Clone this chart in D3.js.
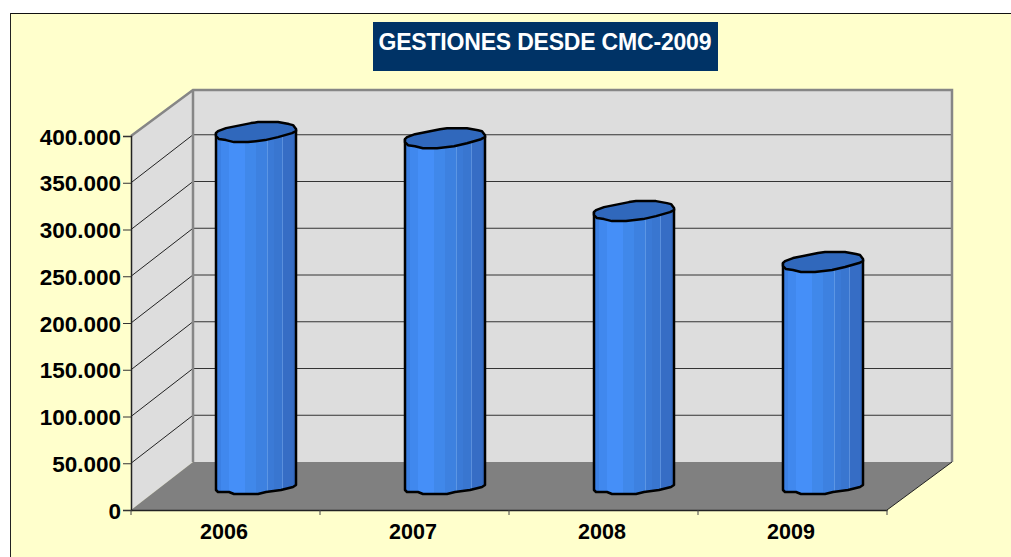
<!DOCTYPE html>
<html>
<head>
<meta charset="utf-8">
<script src="https://cdn.jsdelivr.net/npm/d3@7"></script>
<style>
html, body { margin: 0; padding: 0; background: #fff; overflow: hidden; }
text { font-family: "Liberation Sans", Arial, sans-serif; font-weight: bold; }
</style>
</head>
<body>
<svg id="chart" width="1011" height="557"></svg>
<script>
var years = ["2006", "2007", "2008", "2009"];
var gestiones = [378500, 372000, 294000, 239500];
var yTicks = [0, 50000, 100000, 150000, 200000, 250000, 300000, 350000, 400000];
var yLabels = ["0", "50.000", "100.000", "150.000", "200.000", "250.000", "300.000", "350.000", "400.000"];
var chartTitle = "GESTIONES DESDE CMC-2009";

var svg = d3.select("#chart");

// depth of the fake 3d box
var depthX = 62;
var depthY = 48;

var xScale = d3.scaleBand().domain(years).range([131, 887]);
var yScale = d3.scaleLinear().domain([0, 400000]).range([510, 136]);

var x0 = xScale.range()[0];
var x1 = xScale.range()[1];
var y0 = yScale(0);
var yTop = yScale(400000);
var wallTop = yTop - depthY + 2;

// page background
svg.append("rect").attr("width", 1011).attr("height", 557).attr("fill", "#fff");
svg.append("rect").attr("x", 10).attr("y", 13).attr("width", 1001).attr("height", 544)
    .attr("fill", "#ffffcc");
svg.append("line").attr("x1", 10).attr("x2", 1011).attr("y1", 13.5).attr("y2", 13.5)
    .attr("stroke", "#111").attr("stroke-width", 1);
svg.append("line").attr("x1", 10.5).attr("x2", 10.5).attr("y1", 13).attr("y2", 557)
    .attr("stroke", "#222").attr("stroke-width", 1);

// title box
svg.append("rect").attr("x", 373).attr("y", 22).attr("width", 345).attr("height", 49)
    .attr("fill", "#003366");
svg.append("text").attr("x", 545).attr("y", 50).attr("text-anchor", "middle")
    .attr("fill", "#fff").style("font-size", "23px").attr("textLength", 333)
    .attr("lengthAdjust", "spacing").text(chartTitle);

// walls
function poly(pts) { return pts.map(function(p){ return p.join(","); }).join(" "); }

svg.append("polygon")
    .attr("points", poly([[x0 + depthX, wallTop], [x1 + 65, wallTop], [x1 + 65, y0 - depthY], [x0 + depthX, y0 - depthY]]))
    .attr("fill", "#dddddd");
svg.append("polygon")
    .attr("points", poly([[x0, yTop], [x0 + depthX, wallTop], [x0 + depthX, y0 - depthY], [x0, y0]]))
    .attr("fill", "#dddddd");
svg.append("polygon")
    .attr("points", poly([[x0, y0], [x0 + depthX, y0 - depthY], [x1 + 65, y0 - depthY], [x1, y0]]))
    .attr("fill", "#808080");

// gridlines, back wall then the slanted bit on the side wall
var gridTicks = yTicks.filter(function(d){ return d > 0 && d < 400000; });
svg.selectAll(".grid").data(gridTicks).enter().append("line").attr("class", "grid")
    .attr("x1", x0 + depthX).attr("x2", x1 + 65)
    .attr("y1", function(d){ return yScale(d) - depthY; })
    .attr("y2", function(d){ return yScale(d) - depthY; })
    .attr("stroke", "#333").attr("stroke-width", 1);
svg.selectAll(".gridSide").data(gridTicks).enter().append("line").attr("class", "gridSide")
    .attr("x1", x0).attr("x2", x0 + depthX)
    .attr("y1", function(d){ return yScale(d); })
    .attr("y2", function(d){ return yScale(d) - depthY; })
    .attr("stroke", "#222").attr("stroke-width", 1);

// grey frame of the walls
svg.append("path")
    .attr("d", "M" + x0 + "," + yTop + "L" + (x0 + depthX) + "," + wallTop
        + "L" + (x1 + 65) + "," + wallTop + "L" + (x1 + 65) + "," + (y0 - depthY))
    .attr("fill", "none").attr("stroke", "#868686").attr("stroke-width", 2.5);
svg.append("line").attr("x1", x0 + depthX).attr("x2", x0 + depthX)
    .attr("y1", wallTop).attr("y2", y0 - depthY)
    .attr("stroke", "#868686").attr("stroke-width", 2.5);
svg.append("line").attr("x1", x1).attr("x2", x1 + 65)
    .attr("y1", y0).attr("y2", y0 - depthY)
    .attr("stroke", "#222").attr("stroke-width", 1);

// cylinder colours, hard steps like the original
var grad = svg.append("defs").append("linearGradient").attr("id", "cyl")
    .attr("x1", 0).attr("x2", 1).attr("y1", 0).attr("y2", 0);
var gradSteps = [[0, "#3b80e4"], [0.06, "#4088ee"], [0.16, "#458ff8"], [0.36, "#4088ea"],
    [0.5, "#3d81e0"], [0.64, "#5c96e4"], [0.65, "#3b7ad6"], [0.72, "#3976d0"],
    [0.83, "#5a8fdc"], [0.84, "#366dc5"], [0.96, "#3369bf"], [1, "#3369bf"]];
gradSteps.forEach(function(s, i){
    if (i > 0) grad.append("stop").attr("offset", s[0]).attr("stop-color", gradSteps[i - 1][1]);
    grad.append("stop").attr("offset", s[0]).attr("stop-color", s[1]);
});

// wobbly outline of the cylinder, relative to its centre
var topShape = [[-40,1],[-38,-1],[-30,-4],[-5,-9],[2,-10],[22,-10],[33,-8],[37,-7],[40,-3],[40,-1],[36,1],[22,5],[9,8],[-8,10],[-22,10],[-30,8],[-37,7],[-40,4]];
var baseShape = [[-40,4],[-38,6],[-27,6],[-22,8],[2,8],[10,6],[25,4],[37,1],[40,-1],[40,-4]];

var outline = d3.line().curve(d3.curveLinear);

var bars = svg.selectAll(".bar").data(years).enter().append("g").attr("class", "bar");

bars.each(function(year, i){
    var cx = xScale(year) + xScale.bandwidth() / 2 + depthX / 2 - 0.5;
    var cyTop = yScale(gestiones[i]) - depthY / 2;
    var cyBase = y0 - depthY / 2;
    var g = d3.select(this);

    var base = outline(baseShape.map(function(p){ return [cx + p[0], cyBase + p[1]]; }));
    var bodyD = "M" + (cx - 40) + "," + (cyTop + 1) + "L" + base.slice(1) + "L" + (cx + 40) + "," + (cyTop - 2) + "Z";
    g.append("path").attr("d", bodyD).attr("fill", "url(#cyl)")
        .attr("stroke", "#000").attr("stroke-width", 2.5).attr("stroke-linejoin", "round");
    g.append("path")
        .attr("d", outline(topShape.map(function(p){ return [cx + p[0], cyTop + p[1]]; })) + "Z")
        .attr("fill", "#3068bc").attr("stroke", "#000").attr("stroke-width", 2.5)
        .attr("stroke-linejoin", "round");
});

// axes
var yAxisG = svg.append("g").attr("transform", "translate(" + x0 + ",0)")
    .call(d3.axisLeft(yScale).tickValues(yTicks).tickSize(8).tickPadding(2)
        .tickFormat(function(d, i){ return yLabels[i]; }));
yAxisG.select(".domain").attr("stroke", "#222").attr("stroke-width", 1.5);
yAxisG.selectAll(".tick line").attr("stroke", "#333");
yAxisG.selectAll("text").attr("fill", "#000").attr("y", 1)
    .style("font-size", "22.5px").style("font-family", '"Liberation Sans"').style("font-weight", "bold");

var xAxisG = svg.append("g").attr("transform", "translate(0," + y0 + ")")
    .call(d3.axisBottom(xScale).tickSize(0).tickPadding(14));
xAxisG.select(".domain").attr("stroke", "#222").attr("stroke-width", 1.5);
xAxisG.selectAll("text").attr("fill", "#000").attr("x", -1.5)
    .style("font-size", "21.5px").style("font-family", '"Liberation Sans"').style("font-weight", "bold");

// tick marks sit between the bands
svg.selectAll(".xt").data(years.concat(["end"])).enter().append("line").attr("class", "xt")
    .attr("x1", function(d, i){ return x0 + i * xScale.step(); })
    .attr("x2", function(d, i){ return x0 + i * xScale.step(); })
    .attr("y1", y0).attr("y2", y0 + 5)
    .attr("stroke", "#444");
</script>
</body>
</html>
